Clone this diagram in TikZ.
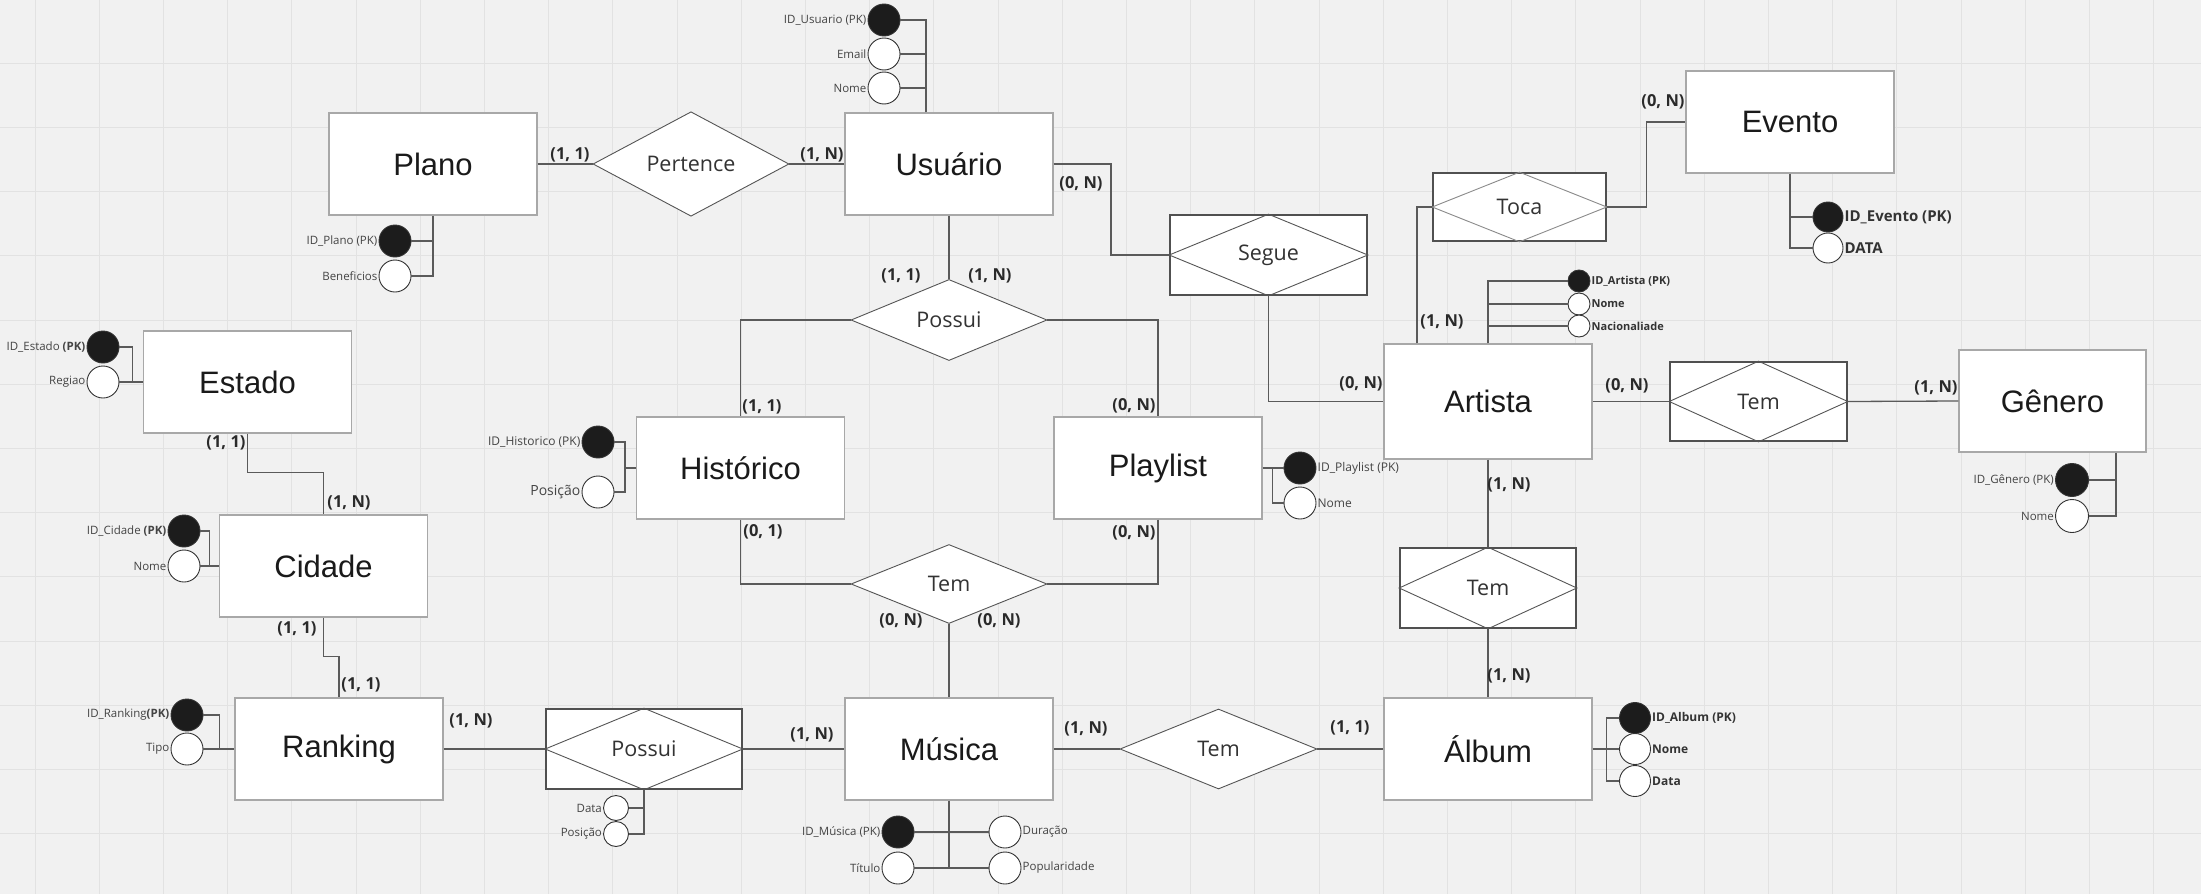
\documentclass[tikz,border=0pt]{standalone}
\usepackage{fontspec}
\setmainfont{Open Sans}
\newfontfamily\arialf{Liberation Sans}
\usetikzlibrary{calc,shapes.geometric}
\definecolor{bgc}{HTML}{F1F1F1}
\definecolor{gridc}{HTML}{E2E2E2}
\definecolor{entc}{HTML}{A8A8A8}
\definecolor{boxc}{HTML}{505050}
\definecolor{dc}{HTML}{555555}
\definecolor{dcl}{HTML}{8A8A8A}
\definecolor{linec}{HTML}{5A5A5A}
\definecolor{circc}{HTML}{333333}
\definecolor{blk}{HTML}{1C1C1C}
\definecolor{txt}{HTML}{1A1A1A}
\definecolor{txt2}{HTML}{333333}
\definecolor{labc}{HTML}{444444}
\definecolor{cardc}{HTML}{2A2A2A}
\begin{document}
\begin{tikzpicture}[x=1pt,y=-1pt,
  ent/.style={draw=entc, fill=white, line width=1.3pt, minimum width=208pt, minimum height=102pt, inner sep=0pt, font=\arialf\fontsize{31}{36}\selectfont, text=txt},
  reld/.style={shape=diamond, draw=dc, fill=white, line width=0.9pt, minimum width=196pt, minimum height=79pt, inner sep=0pt, font=\fontsize{21.5}{24}\selectfont, text=txt2},
  relb/.style={draw=boxc, fill=white, line width=1.6pt, inner sep=0pt, font=\fontsize{21.5}{24}\selectfont, text=txt2},
  dline/.style={draw=dc, line width=0.9pt},
  conn/.style={draw=linec, line width=1.3pt},
  attrk/.style={circle, draw=circc, fill=blk, line width=0.9pt, inner sep=0pt, minimum size=#1},
  attrk/.default=32pt,
  attr/.style={circle, draw=circc, fill=white, line width=0.9pt, inner sep=0pt, minimum size=#1},
  attr/.default=32pt,
  lab/.style={font=\fontsize{11.5}{13}\selectfont, text=labc, inner sep=1pt},
  labb/.style={font=\bfseries\fontsize{#1}{14}\selectfont, text=txt2, inner sep=1pt},
  card/.style={font=\bfseries\fontsize{16.5}{18}\selectfont, text=cardc, inner sep=0pt}
]
\useasboundingbox (0,0) rectangle (2201,894);
\fill[bgc] (0,0) rectangle (2201,894);
\foreach \i in {0,...,33} \draw[gridc, line width=1pt] ({35+64.2*\i},0) -- ({35+64.2*\i},894);
\foreach \i in {0,...,12} \draw[gridc, line width=1pt] (0,{63.3+64.2*\i}) -- (2201,{63.3+64.2*\i});

% entities
\node[ent] (plano) at (433,164) {Plano};
\node[ent] (usuario) at (949,164) {Usuário};
\node[ent] (estado) at (247.5,382) {Estado};
\node[ent] (historico) at (740.5,468) {Histórico};
\node[ent] (playlist) at (1158,468) {Playlist};
\node[ent] (cidade) at (323.5,566) {Cidade};
\node[ent] (ranking) at (339,749) {Ranking};
\node[ent] (musica) at (949,749) {Música};
\node[ent] (album) at (1488,749) {Álbum};
\node[ent, minimum height=115pt] (artista) at (1488,401.5) {Artista};
\node[ent] (evento) at (1790,122) {Evento};
\node[ent, minimum width=187pt] (genero) at (2052.5,401) {Gênero};

% relationships
\node[reld] (pertence) at (691,164) {Pertence};
\node[reld] (possuiU) at (949,320) {Possui};
\node[reld] (temH) at (949,584) {Tem};
\node[reld, minimum width=197pt, minimum height=80pt] (temM) at (1218.5,749) {Tem};
\node[relb, minimum width=197pt, minimum height=80pt] (segue) at (1268.5,255) {Segue};
\node[relb, minimum width=173pt, minimum height=68pt] (toca) at (1519.5,207) {Toca};
\node[relb, minimum width=177pt, minimum height=79pt] (temG) at (1758.5,401.5) {Tem};
\node[relb, minimum width=176pt, minimum height=80pt] (temA) at (1488,588) {Tem};
\node[relb, minimum width=196pt, minimum height=80pt] (possuiR) at (644,749) {Possui};
\foreach \n in {segue,temG,temA,possuiR}
  \draw[dline] (\n.west) -- (\n.north) -- (\n.east) -- (\n.south) -- cycle;
\draw[dline, draw=dcl] (toca.west) -- (toca.north) -- (toca.east) -- (toca.south) -- cycle;

% connectors
\draw[conn] (plano.east) -- (pertence.west);
\draw[conn] (pertence.east) -- (usuario.west);
\draw[conn] (usuario.south) -- (possuiU.north);
\draw[conn] (possuiU.west) -| (historico.north);
\draw[conn] (possuiU.east) -| (playlist.north);
\draw[conn] (historico.south) |- (temH.west);
\draw[conn] (playlist.south) |- (temH.east);
\draw[conn] (temH.south) -- (musica.north);
\coordinate (c1) at (1111,164);
\draw[conn] (usuario.east) -- (c1) |- (segue.west);
\draw[conn] (segue.south) |- (artista.west);
\draw[conn] ([xshift=-71pt]artista.north) |- (toca.west);
\draw[conn] (toca.east) -- ++(40,0) |- (evento.west);
\draw[conn] (artista.east) -- (temG.west);
\draw[conn] (temG.east) -- (genero.west);
\draw[conn] (artista.south) -- (temA.north);
\draw[conn] (temA.south) -- (album.north);
\draw[conn] (musica.east) -- (temM.west);
\draw[conn] (temM.east) -- (album.west);
\draw[conn] (ranking.east) -- (possuiR.west);
\draw[conn] (possuiR.east) -- (musica.west);
\draw[conn] (estado.south) |- ($(cidade.north)+(0,-42)$) -- (cidade.north);
\draw[conn] (cidade.south) |- ($(ranking.north)+(0,-41)$) -- (ranking.north);

% Usuario attributes
\node[attrk] (uid) at (884,20) {};
\node[attr] (uemail) at (884,54) {};
\node[attr] (unome) at (884,88) {};
\coordinate (us) at ([xshift=-23pt]usuario.north);
\draw[conn] (us) |- (uid.east);
\draw[conn] (uemail.east) -- (uemail.east -| us);
\draw[conn] (unome.east) -- (unome.east -| us);
\node[lab, anchor=east] (luid) at (uid.west) {ID\_Usuario (PK)};
\node[lab, anchor=east] (luemail) at (uemail.west) {Email};
\node[lab, anchor=east] (lunome) at (unome.west) {Nome};

% Plano attributes
\node[attrk] (pid) at (395,241) {};
\node[attr] (pben) at (395,276) {};
\draw[conn] (plano.south) |- (pben.east);
\draw[conn] (pid.east) -- (pid.east -| plano.south);
\node[lab, anchor=east] (lpid) at (pid.west) {ID\_Plano (PK)};
\node[lab, anchor=east] (lpben) at (pben.west) {Beneficios};

% Estado attributes
\node[attrk] (eid) at (103,347) {};
\node[attr] (ereg) at (103,382) {};
\draw[conn] (eid.east) -- ++(13,0) |- (estado.west);
\draw[conn] (ereg.east) -- (estado.west);
\node[lab, anchor=east] (leid) at (eid.west) {ID\_Estado \textbf{(PK)}};
\node[lab, anchor=east] (lereg) at (ereg.west) {Regiao};

% Historico attributes
\node[attrk] (hid) at (598,442) {};
\node[attr] (hpos) at (598,492) {};
\coordinate (hs) at ([xshift=-11pt]historico.west);
\draw[conn] (hid.east) -| (hs) |- (hpos.east);
\draw[conn] (hs) -- (historico.west);
\node[lab, anchor=east, font=\fontsize{12}{14}\selectfont] (lhid) at (hid.west) {ID\_Historico (PK)};
\node[lab, anchor=east, font=\fontsize{14}{16}\selectfont] (lhpos) at (hpos.west) {Posição};

% Cidade attributes
\node[attrk] (cid) at (184,531) {};
\node[attr] (cnome) at (184,566) {};
\draw[conn] (cid.east) -- ++(9,0) |- (cidade.west);
\draw[conn] (cnome.east) -- (cidade.west);
\node[lab, anchor=east] (lcid) at (cid.west) {ID\_Cidade \textbf{(PK)}};
\node[lab, anchor=east] (lcnome) at (cnome.west) {Nome};

% Ranking attributes
\node[attrk] (rid) at (187,715) {};
\node[attr] (rtipo) at (187,749) {};
\draw[conn] (rid.east) -- ++(16,0) |- (ranking.west);
\draw[conn] (rtipo.east) -- (ranking.west);
\node[lab, anchor=east] (lrid) at (rid.west) {ID\_Ranking\textbf{(PK)}};
\node[lab, anchor=east] (lrtipo) at (rtipo.west) {Tipo};

% Possui (Ranking) attributes
\node[attr=25pt] (pdata) at (616,808) {};
\node[attr=25pt] (ppos) at (616,834) {};
\draw[conn] (possuiR.south) |- (ppos.east);
\draw[conn] (pdata.east) -- (pdata.east -| possuiR.south);
\node[lab, anchor=east] (lpdata) at (pdata.west) {Data};
\node[lab, anchor=east] (lppos) at (ppos.west) {Posição};

% Musica attributes
\node[attrk] (mid) at (898,832) {};
\node[attr] (mtit) at (898,868) {};
\node[attr] (mdur) at (1005,832) {};
\node[attr] (mpop) at (1005,868) {};
\draw[conn] (musica.south) -- (musica.south |- mtit.east);
\draw[conn] (mid.east) -- (mdur.west);
\draw[conn] (mtit.east) -- (mpop.west);
\node[lab, anchor=east] (lmid) at (mid.west) {ID\_Música (PK)};
\node[lab, anchor=east] (lmtit) at (mtit.west) {Título};
\node[lab, anchor=west] (lmdur) at (mdur.east) {Duração};
\node[lab, anchor=west] (lmpop) at (mpop.east) {Popularidade};

% Album attributes
\node[attrk=31pt] (alid) at (1635,718) {};
\node[attr=31pt] (alnome) at (1635,749) {};
\node[attr=31pt] (aldata) at (1635,781) {};
\coordinate (as) at ([xshift=14pt]album.east);
\draw[conn] (album.east) -- (alnome.west);
\draw[conn] (alid.west) -| (as) |- (aldata.west);
\node[labb=12, anchor=west] (lalid) at (alid.east) {ID\_Album (PK)};
\node[labb=12, anchor=west] (lalnome) at (alnome.east) {Nome};
\node[labb=12, anchor=west] (laldata) at (aldata.east) {Data};

% Artista attributes
\node[attrk=22pt] (arid) at (1579,281) {};
\node[attr=22pt] (arnome) at (1579,304) {};
\node[attr=22pt] (arnac) at (1579,326) {};
\draw[conn] (artista.north) |- (arid.west);
\draw[conn] (arnome.west) -- (arnome.west -| artista.north);
\draw[conn] (arnac.west) -- (arnac.west -| artista.north);
\node[labb=11, anchor=west] (larid) at (arid.east) {ID\_Artista (PK)};
\node[labb=11, anchor=west] (larnome) at (arnome.east) {Nome};
\node[labb=11, anchor=west] (larnac) at (arnac.east) {Nacionaliade};

% Evento attributes
\node[attrk=30pt] (evid) at (1828,217) {};
\node[attr=30pt] (evdata) at (1828,248) {};
\draw[conn] (evento.south) |- (evdata.west);
\draw[conn] (evid.west) -- (evid.west -| evento.south);
\node[labb=15, anchor=west] (levid) at (evid.east) {ID\_Evento (PK)};
\node[labb=15, anchor=west] (levdata) at (evdata.east) {DATA};

% Genero attributes
\node[attrk=33pt] (gid) at (2072,480) {};
\node[attr=33pt] (gnome) at (2072,516) {};
\coordinate (gs) at ([xshift=63.5pt]genero.south);
\draw[conn] (gs) |- (gnome.east);
\draw[conn] (gid.east) -- (gid.east -| gs);
\node[lab, anchor=east] (lgid) at (gid.west) {ID\_Gênero (PK)};
\node[lab, anchor=east] (lgnome) at (gnome.west) {Nome};

% Playlist attributes
\node[attrk] (plid) at (1300,468) {};
\node[attr] (plnome) at (1300,503) {};
\draw[conn] (playlist.east) -- (plid.west);
\draw[conn] ([xshift=10pt]playlist.east) |- (plnome.west);
\node[lab, anchor=west, font=\fontsize{12}{14}\selectfont] (lplid) at (plid.east) {ID\_Playlist (PK)};
\node[lab, anchor=west, font=\fontsize{12}{14}\selectfont] (lplnome) at (plnome.east) {Nome};

% cardinalities
\node[card] (k1) at (570,155) {(1, 1)};
\node[card] (k2) at (822,155) {(1, N)};
\node[card] (k3) at (1081,184) {(0, N)};
\node[card] (k4) at (901,276) {(1, 1)};
\node[card] (k5) at (990,276) {(1, N)};
\node[card] (k6) at (762,407) {(1, 1)};
\node[card] (k7) at (1134,406) {(0, N)};
\node[card] (k8) at (763,532) {(0, 1)};
\node[card] (k9) at (1134,533) {(0, N)};
\node[card] (k10) at (901,621) {(0, N)};
\node[card] (k11) at (999,621) {(0, N)};
\node[card] (k12) at (471,721) {(1, N)};
\node[card] (k13) at (812,735) {(1, N)};
\node[card] (k14) at (1086,729) {(1, N)};
\node[card] (k15) at (1350,728) {(1, 1)};
\node[card] (k16) at (1509,676) {(1, N)};
\node[card] (k17) at (1509,485) {(1, N)};
\node[card] (k18) at (1361,384) {(0, N)};
\node[card] (k19) at (1442,322) {(1, N)};
\node[card] (k20) at (1663,102) {(0, N)};
\node[card] (k21) at (1627,386) {(0, N)};
\node[card] (k22) at (1936,388) {(1, N)};
\node[card] (k23) at (226,443) {(1, 1)};
\node[card] (k24) at (349,503) {(1, N)};
\node[card] (k25) at (297,629) {(1, 1)};
\node[card] (k26) at (361,685) {(1, 1)};
\end{tikzpicture}
\end{document}
